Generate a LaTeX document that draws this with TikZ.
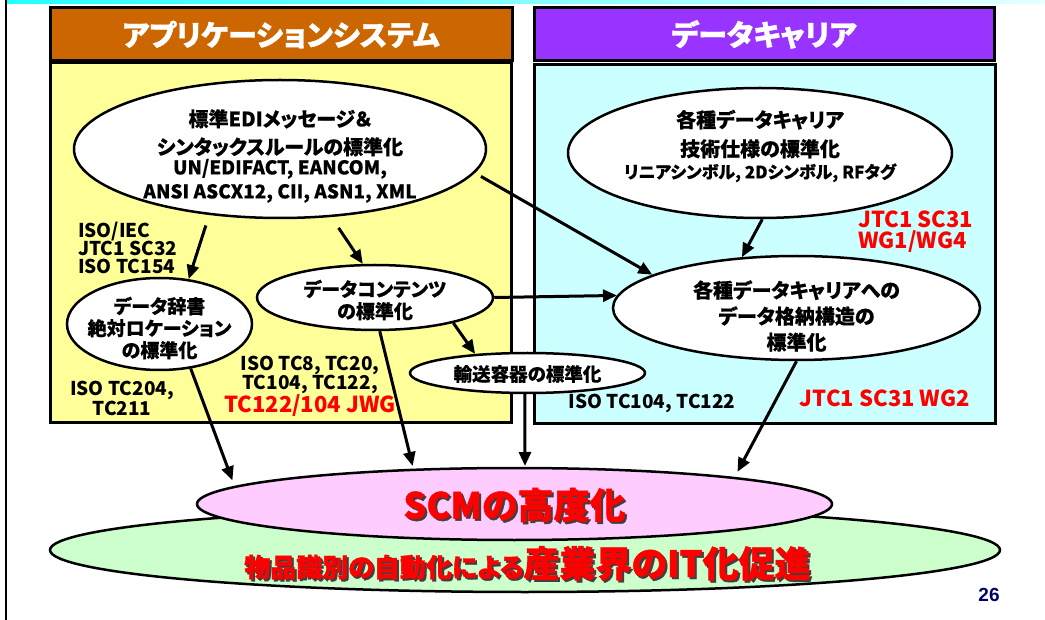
\documentclass[tikz,border=0pt]{standalone}
\usepackage{fontspec}
\setmainfont{Noto Sans CJK JP}[RawFeature={+palt}]
\newfontfamily\numfont{Liberation Sans}
\newcommand\heavyfont[1]{\addfontfeature{FakeBold=#1}}
\usetikzlibrary{shapes.geometric,arrows.meta,calc}
\definecolor{appc}{HTML}{CC6600}
\definecolor{yel}{HTML}{FFFF99}
\definecolor{purp}{HTML}{9933FF}
\definecolor{cyanbox}{HTML}{CCFFFF}
\definecolor{pinkf}{HTML}{FFCCFF}
\definecolor{greenf}{HTML}{CCFFCC}
\definecolor{redt}{HTML}{FF0000}
\definecolor{navy}{HTML}{000066}
\definecolor{barL}{HTML}{22FFFF}
\definecolor{barR}{HTML}{E6FFFF}
\tikzset{
  panel/.style={draw=black, line width=3pt, inner sep=0pt},
  hdr/.style={panel, text=white, font=\bfseries\fontsize{29}{32}\selectfont\heavyfont{1}},
  ell/.style={ellipse, draw=black, line width=2.5pt, fill=white, inner sep=0pt},
  etxt/.style={inner sep=0pt, align=center},
  arr/.style={line width=3pt, -{Triangle[length=14pt,width=12pt]}},
  lbl/.style={inner sep=0pt, font=\bfseries\fontsize{19}{19}\selectfont},
  rlbl/.style={inner sep=0pt, text=redt, font=\bfseries\fontsize{22}{21}\selectfont},
}
\begin{document}
\begin{tikzpicture}[x=1pt,y=-1pt]
\useasboundingbox (0,0) rectangle (1045,620);
% top bar and left rule
\shade[left color=barL, right color=barR] (7,0) rectangle (1045,4);
\draw[line width=2pt] (6,0) -- (6,620);
% panels
\node[hdr, fill=appc, minimum width=462pt, minimum height=53pt] (apph) at (281,34.5) {アプリケーションシステム};
\node[panel, fill=yel, minimum width=461pt, minimum height=360pt] (appbox) at (280.5,243) {};
\node[hdr, fill=purp, minimum width=460pt, minimum height=53pt] (carh) at (764,34.5) {データキャリア};
\node[panel, fill=cyanbox, minimum width=461pt, minimum height=359pt] (carbox) at (764.5,244.5) {};
% ellipses
\node[ell, minimum width=412pt, minimum height=138pt] (edi) at (280,149) {};
\node[ell, minimum width=384pt, minimum height=130pt] (car) at (760,153) {};
\node[ell, minimum width=185pt, minimum height=92pt] (dict) at (159.5,324) {};
\node[ell, minimum width=236pt, minimum height=65pt] (cont) at (375,297.5) {};
\node[ell, minimum width=367pt, minimum height=104pt] (stor) at (796.5,308) {};
\node[ell, minimum width=235pt, minimum height=40pt] (trans) at (527.5,373) {};
% ellipse texts
\node[etxt, font=\bfseries\fontsize{20}{24}\selectfont\heavyfont{0.4}] (edi-t) at ($(edi.center)+(0,7)$)
  {標準EDIメッセージ＆\\[4pt]シンタックスルールの標準化\\[-4pt]{\fontsize{19}{23}\selectfont UN/EDIFACT, EANCOM,}\\[0pt]{\fontsize{19}{23}\selectfont ANSI ASCX12, CII, ASN1, XML}};
\node[etxt, font=\bfseries\fontsize{20}{24}\selectfont\heavyfont{0.4}] (car-t) at ($(car.center)+(0,-7)$)
  {各種データキャリア\\[5pt]技術仕様の標準化\\[-2pt]{\fontsize{17}{20}\selectfont リニアシンボル, 2Dシンボル, RFタグ}};
\node[etxt, font=\bfseries\fontsize{19}{22}\selectfont\heavyfont{0.4}] (dict-t) at ($(dict.center)+(0,4)$)
  {データ辞書\\絶対ロケーション\\の標準化};
\node[etxt, font=\bfseries\fontsize{19}{22}\selectfont\heavyfont{0.4}] (cont-t) at ($(cont.center)+(0,2.5)$)
  {データコンテンツ\\の標準化};
\node[etxt, font=\bfseries\fontsize{20}{26}\selectfont\heavyfont{0.4}] (stor-t) at ($(stor.center)+(0,8)$)
  {各種データキャリアへの\\データ格納構造の\\標準化};
\node[etxt, font=\bfseries\fontsize{18.5}{22}\selectfont\heavyfont{0.4}] (trans-t) at ($(trans.center)+(0,1)$)
  {輸送容器の標準化};
% labels
\node[lbl, anchor=west, align=left, font=\bfseries\fontsize{19}{18}\selectfont] (l1) at (78,248) {ISO/IEC\\JTC1 SC32\\ISO TC154};
\node[lbl, align=center, font=\bfseries\fontsize{19}{20}\selectfont] (l2) at (122,398) {ISO TC204,\\TC211};
\node[lbl, align=center, font=\bfseries\fontsize{19}{19}\selectfont] (l3) at (310,386) {ISO TC8, TC20,\\TC104, TC122,\\{\color{redt}\fontsize{22}{21}\selectfont TC122/104 JWG}};
\node[lbl] (l4) at (652,403) {ISO TC104, TC122};
\node[rlbl, anchor=west, align=left] (l5) at (858,232) {JTC1 SC31\\WG1/WG4};
\node[rlbl] (l6) at (885,398) {JTC1 SC31 WG2};
% bottom ellipses
\node[ellipse, draw=black, line width=2.5pt, fill=greenf, minimum width=950pt, minimum height=84pt, inner sep=0pt] (ind) at (525,550) {};
\node[ellipse, draw=black, line width=2.5pt, fill=pinkf, minimum width=635pt, minimum height=72pt, inner sep=0pt] (scm) at (514.5,504) {};
\node[text=black!75, font=\bfseries\fontsize{36}{40}\selectfont\heavyfont{1.2}] (scmts) at (516.5,507) {SCMの高度化};
\node[text=redt, font=\bfseries\fontsize{36}{40}\selectfont\heavyfont{1.2}] (scmt) at (514.5,505) {SCMの高度化};
\node[anchor=base, inner sep=0pt, text=black!75, font=\bfseries] (indts) at (529.5,579) {{\fontsize{26}{30}\selectfont\heavyfont{1.2}物品識別の自動化による}{\fontsize{36}{40}\selectfont\heavyfont{1.2}産業界のIT化促進}};
\node[anchor=base, inner sep=0pt, text=redt, font=\bfseries] (indt) at (527.5,577) {{\fontsize{26}{30}\selectfont\heavyfont{1.2}物品識別の自動化による}{\fontsize{36}{40}\selectfont\heavyfont{1.2}産業界のIT化促進}};
\node[text=navy, font=\numfont\bfseries\fontsize{19}{20}\selectfont] (pg) at (989,595) {26};
% points on the flat SCM ellipse where the arrows land
\coordinate (scmG) at ($(scm.center)+(-279.6,-17)$);
\coordinate (scmH) at ($(scm.center)+(-100.9,-34.1)$);
\coordinate (scmI) at ($(scm.center)+(10.5,-36)$);
\coordinate (scmJ) at ($(scm.center)+(219.7,-26)$);
% arrows
\draw[arr, shorten <=11pt] (edi.-137) -- (dict.57.7);
\draw[arr, shorten <=13pt] (edi.-53.2) -- (cont.110.6);
\draw[arr, shorten <=7pt] (edi.-7.4) -- (stor.167.2);
\draw[arr] (car.-88.2) -- (stor.137.8);
\draw[arr] (cont.0) -- (stor.176.8);
\draw[arr] (cont.-18.8) -- (trans.160.4);
\draw[arr, shorten >=7pt] (dict.-55.9) -- (scmG);
\draw[arr, shorten >=4pt] (cont.-82.1) -- (scmH);
\draw[arr, shorten >=2pt] (trans.-97.1) -- (scmI);
\draw[arr, shorten >=7pt] (stor.-90.5) -- (scmJ);
\end{tikzpicture}
\end{document}
